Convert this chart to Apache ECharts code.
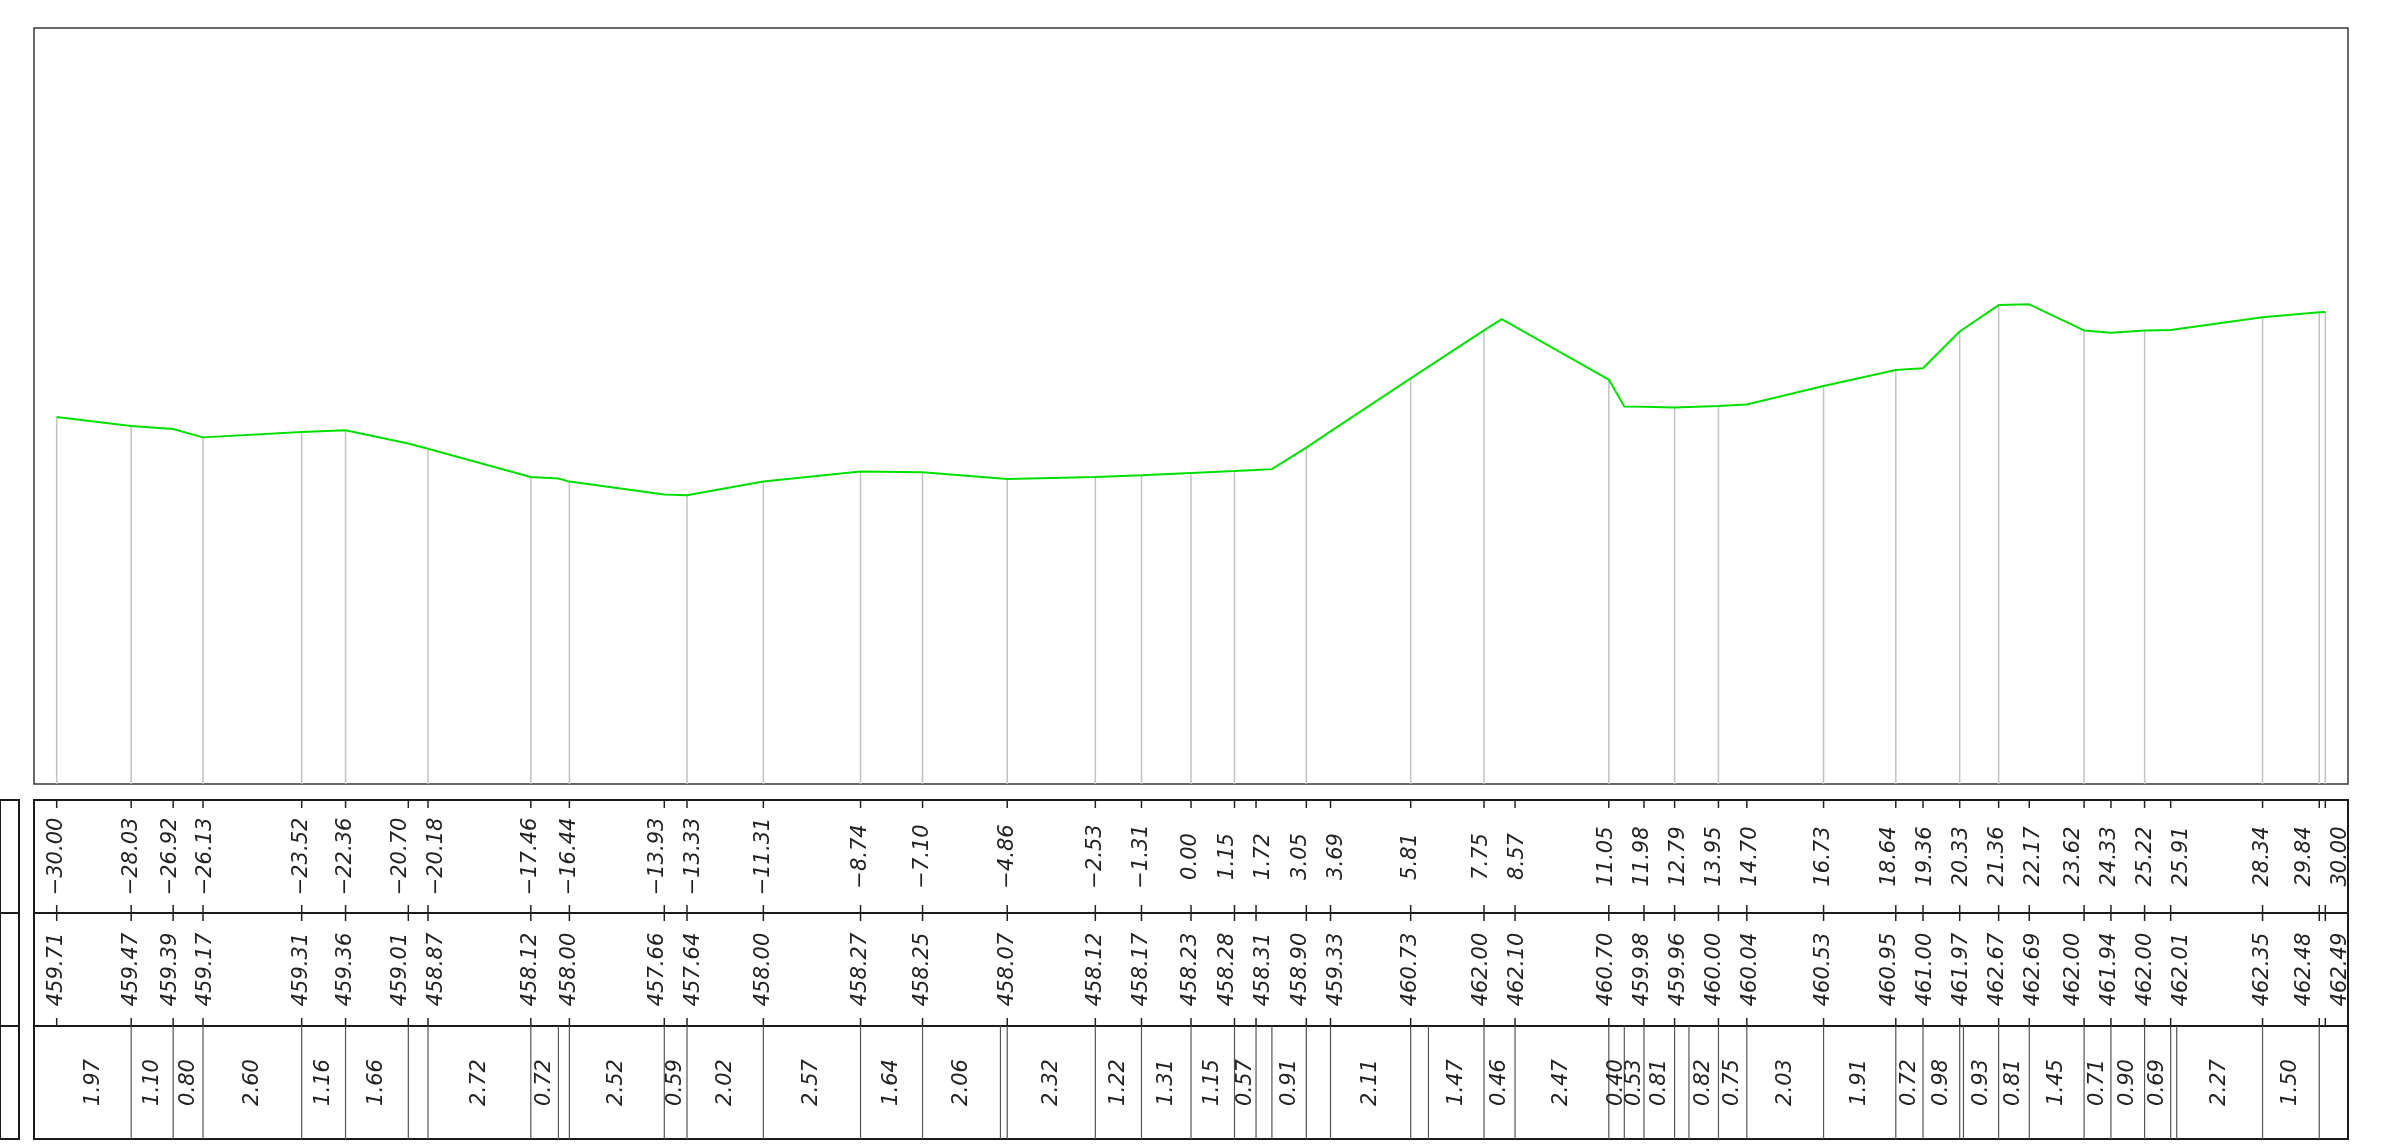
<!DOCTYPE html>
<html>
<head>
<meta charset="utf-8">
<script src="https://cdn.jsdelivr.net/npm/echarts@6.0.0/dist/echarts.min.js"></script>
<style>
  html, body { margin: 0; padding: 0; background: #fff; }
  #section { width: 2381px; height: 1146px; }
</style>
</head>
<body>
<div id="section"></div>
<script>
// 断面桩点：偏距(m) 与 高程(m)
var stations = [-30.00, -28.03, -26.92, -26.13, -23.52, -22.36, -20.70, -20.18, -17.46, -16.44,
  -13.93, -13.33, -11.31, -8.74, -7.10, -4.86, -2.53, -1.31, 0.00, 1.15,
  1.72, 3.05, 3.69, 5.81, 7.75, 8.57, 11.05, 11.98, 12.79, 13.95,
  14.70, 16.73, 18.64, 19.36, 20.33, 21.36, 22.17, 23.62, 24.33, 25.22,
  25.91, 28.34, 29.84, 30.00];
var elevations = [459.71, 459.47, 459.39, 459.17, 459.31, 459.36, 459.01, 458.87, 458.12, 458.00,
  457.66, 457.64, 458.00, 458.27, 458.25, 458.07, 458.12, 458.17, 458.23, 458.28,
  458.31, 458.90, 459.33, 460.73, 462.00, 462.10, 460.70, 459.98, 459.96, 460.00,
  460.04, 460.53, 460.95, 461.00, 461.97, 462.67, 462.69, 462.00, 461.94, 462.00,
  462.01, 462.35, 462.48, 462.49];
// 地面线上没有标注的折点
var extraKnots = [[-16.73, 458.08], [2.14, 458.33], [8.22, 462.30], [11.46, 459.99]];
// 画竖向引线的桩点
var dropAt = [-30.00, -28.03, -26.13, -23.52, -22.36, -20.18, -17.46, -16.44, -13.33, -11.31,
  -8.74, -7.10, -4.86, -2.53, -1.31, 0.00, 1.15, 3.05, 5.81, 7.75,
  11.05, 12.79, 13.95, 16.73, 18.64, 20.33, 21.36, 23.62, 25.22, 28.34,
  29.84, 30.00];
// 距离栏分段
var segEdges = [-30.00, -28.03, -26.92, -26.13, -23.52, -22.36, -20.70, -20.18, -17.46, -16.73,
  -16.44, -13.93, -13.33, -11.31, -8.74, -7.10, -5.04, -4.86, -2.53, -1.31,
  0.00, 1.15, 1.72, 2.14, 3.05, 3.69, 5.81, 6.28, 7.75, 8.57,
  11.05, 11.46, 11.98, 12.79, 13.17, 13.95, 14.70, 16.73, 18.64, 19.36,
  20.33, 20.43, 21.36, 22.17, 23.62, 24.33, 25.22, 25.91, 26.07, 28.34,
  29.84, 30.00];
var segLengths = ['1.97', '1.10', '0.80', '2.60', '1.16', '1.66', null, '2.72', '0.72', null,
  '2.52', '0.59', '2.02', '2.57', '1.64', '2.06', null, '2.32', '1.22', '1.31',
  '1.15', '0.57', null, '0.91', null, '2.11', null, '1.47', '0.46', '2.47',
  '0.40', '0.53', '0.81', null, '0.82', '0.75', '2.03', '1.91', '0.72', '0.98',
  null, '0.93', '0.81', '1.45', '0.71', '0.90', '0.69', null, '2.27', '1.50',
  null];

var X_MIN = -30.6, X_MAX = 30.6;
var LEFT = 34, WIDTH = 2314;
var ROW_TOP = 800, ROW_H = 113;
var TEXT_FONT = 'DejaVu Sans';

function elevAt(x) {
  return elevations[stations.indexOf(x)];
}

// 标注太挤时左右推开
function spread(xs, gap) {
  var out = xs.slice();
  for (var k = 0; k < 80; k++) {
    for (var i = 1; i < out.length; i++) {
      var d = out[i] - out[i - 1];
      if (d < gap) {
        var m = (gap - d) / 2;
        out[i - 1] -= m;
        out[i] += m;
      }
    }
  }
  return out;
}

function fmt(v) {
  return v.toFixed(2).replace('-', '\u2212');
}

var profile = stations.map(function (s, i) { return [s, elevations[i]]; })
  .concat(extraKnots)
  .sort(function (a, b) { return a[0] - b[0]; });

var labelX = spread(stations, 0.95);

function rotText(x, y, text) {
  return {
    type: 'text', x: x, y: y, rotation: Math.PI / 2,
    style: {
      text: text, fill: '#222', fontSize: 21, fontFamily: TEXT_FONT,
      fontStyle: 'italic', align: 'center', verticalAlign: 'middle'
    }
  };
}

function vline(x, y1, y2, color, w) {
  return {
    type: 'line', shape: { x1: x, y1: y1, x2: x, y2: y2 },
    style: { stroke: color, lineWidth: w }
  };
}

// 偏距栏、高程栏共用
function stationRow(textOf) {
  return function (params, api) {
    var i = api.value(2);
    var top = api.coord([api.value(0), 1]);
    var bot = api.coord([api.value(0), 0]);
    var mid = api.coord([api.value(1), 0.5]);
    return {
      type: 'group',
      children: [
        vline(top[0], top[1], top[1] + 8, '#222', 1.5),
        vline(bot[0], bot[1] - 8, bot[1], '#222', 1.5),
        rotText(mid[0], mid[1], textOf(i))
      ]
    };
  };
}

var grids = [
  { left: LEFT, top: 28, width: WIDTH, height: 756, show: true, borderColor: '#3a3a3a', borderWidth: 1.5 }
];
var xAxes = [{ type: 'value', gridIndex: 0, min: X_MIN, max: X_MAX, show: false }];
var yAxes = [{ type: 'value', gridIndex: 0, min: 450, max: 470, show: false }];
for (var r = 0; r < 3; r++) {
  grids.push({ left: LEFT, top: ROW_TOP + r * ROW_H, width: WIDTH, height: ROW_H, show: true, borderColor: '#1a1a1a', borderWidth: 2 });
  xAxes.push({ type: 'value', gridIndex: r + 1, min: X_MIN, max: X_MAX, show: false });
  yAxes.push({ type: 'value', gridIndex: r + 1, min: 0, max: 1, show: false });
}
// 左边表头小格
for (var r2 = 0; r2 < 3; r2++) {
  grids.push({ left: -2, top: ROW_TOP + r2 * ROW_H, width: 21, height: ROW_H, show: true, borderColor: '#1a1a1a', borderWidth: 2 });
  xAxes.push({ type: 'value', gridIndex: r2 + 4, min: 0, max: 1, show: false });
  yAxes.push({ type: 'value', gridIndex: r2 + 4, min: 0, max: 1, show: false });
}

var chartSection = echarts.init(document.getElementById('section'));
var optionSection = {
  animation: false,
  backgroundColor: '#fff',
  grid: grids,
  xAxis: xAxes,
  yAxis: yAxes,
  series: [
    {
      // 竖向引线
      type: 'custom',
      xAxisIndex: 0, yAxisIndex: 0,
      silent: true, z: 2,
      data: dropAt.map(function (x) { return [x, elevAt(x)]; }),
      renderItem: function (params, api) {
        var p1 = api.coord([api.value(0), api.value(1)]);
        var p0 = api.coord([api.value(0), 450]);
        return vline(p1[0], p1[1], p0[1], '#c2c2c2', 1.5);
      }
    },
    {
      // 地面线
      type: 'line',
      xAxisIndex: 0, yAxisIndex: 0,
      silent: true, z: 3,
      symbol: 'none',
      data: profile,
      lineStyle: { color: '#00e000', width: 2 }
    },
    {
      type: 'custom',
      xAxisIndex: 1, yAxisIndex: 1, silent: true,
      data: stations.map(function (s, i) { return [s, labelX[i], i]; }),
      renderItem: stationRow(function (i) { return fmt(stations[i]); })
    },
    {
      type: 'custom',
      xAxisIndex: 2, yAxisIndex: 2, silent: true,
      data: stations.map(function (s, i) { return [s, labelX[i], i]; }),
      renderItem: stationRow(function (i) { return elevations[i].toFixed(2); })
    },
    {
      // 距离栏分隔线
      type: 'custom',
      xAxisIndex: 3, yAxisIndex: 3, silent: true,
      data: segEdges.slice(1, -1).map(function (x) { return [x, 0]; }),
      renderItem: function (params, api) {
        var top = api.coord([api.value(0), 1]);
        var bot = api.coord([api.value(0), 0]);
        return vline(top[0], top[1], bot[1], '#555', 1.2);
      }
    },
    {
      type: 'custom',
      xAxisIndex: 3, yAxisIndex: 3, silent: true,
      data: segLengths.map(function (t, i) {
        return [(segEdges[i] + segEdges[i + 1]) / 2, 0.5, i];
      }).filter(function (d) { return segLengths[d[2]] !== null; }),
      renderItem: function (params, api) {
        var p = api.coord([api.value(0), 0.5]);
        return rotText(p[0], p[1], segLengths[api.value(2)]);
      }
    }
  ]
};
chartSection.setOption(optionSection);
</script>
</body>
</html>
